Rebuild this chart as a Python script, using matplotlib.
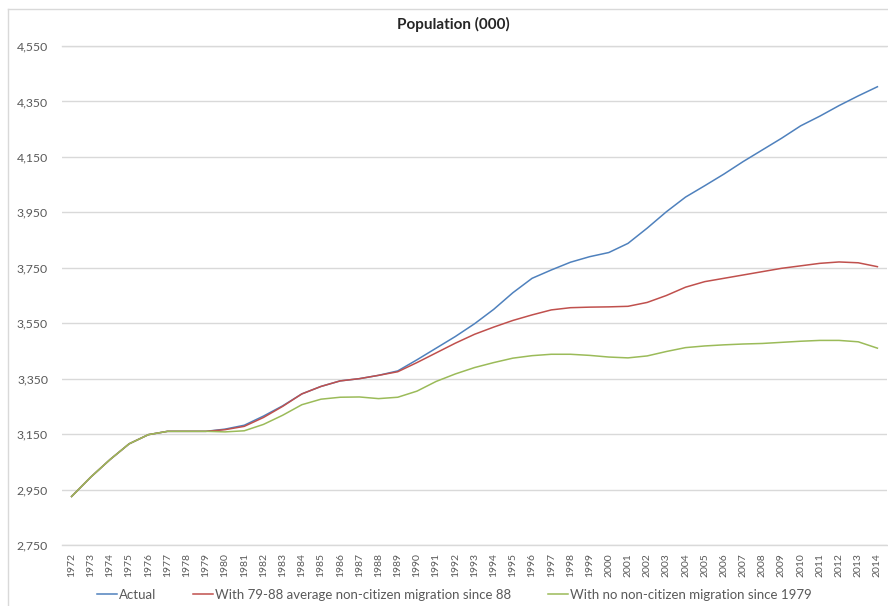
import matplotlib
matplotlib.use("Agg")
import matplotlib.pyplot as plt
from matplotlib.lines import Line2D
import numpy as np

plt.rcParams['font.family'] = ['Lato', 'DejaVu Sans']

years = list(range(1972, 2015))

actual = [2925, 2995, 3058, 3115, 3148, 3160, 3160, 3160, 3168, 3182,
          3215, 3252, 3295, 3322, 3342, 3350, 3362, 3378, 3418, 3460,
          3502, 3548, 3600, 3660, 3712, 3742, 3770, 3790, 3805, 3838,
          3893, 3952, 4005, 4046, 4088, 4133, 4175, 4217, 4262, 4297,
          4335, 4370, 4403]

avg_79_88 = [2925, 2995, 3058, 3115, 3148, 3160, 3160, 3160, 3166, 3178,
             3210, 3250, 3295, 3322, 3342, 3350, 3362, 3375, 3408, 3443,
             3478, 3510, 3536, 3560, 3580, 3598, 3606, 3608, 3609, 3611,
             3625, 3650, 3680, 3700, 3712, 3724, 3736, 3748, 3757, 3766,
             3771, 3768, 3754]

no_migration = [2925, 2995, 3058, 3115, 3148, 3160, 3160, 3160, 3158, 3162,
                3185, 3218, 3256, 3276, 3283, 3284, 3278, 3283, 3305, 3340,
                3367, 3390, 3408, 3424, 3433, 3438, 3438, 3434, 3428, 3425,
                3432, 3448, 3462, 3468, 3472, 3475, 3477, 3481, 3485, 3488,
                3488, 3483, 3460]

labels = ["Actual",
          "With 79-88 average non-citizen migration since 88",
          "With no non-citizen migration since 1979"]
colors = ["#4F81BD", "#C0504D", "#9BBB59"]
yticks = list(range(2750, 4551, 200))

W, H = 888, 606
fig = plt.figure(figsize=(W / 100, H / 100), dpi=100)
ax = fig.add_axes([62 / W, 1 - 545 / H, 825 / W, 499 / H])

x = np.arange(len(years))
for series, lab, col in zip([actual, avg_79_88, no_migration], labels, colors):
    ax.plot(x, series, color=col, lw=1.1, label=lab, solid_joinstyle="round")

grid_c = "#d9d9d9"
ax.set_xlim(-0.5, len(years) - 0.5)
ax.set_ylim(yticks[0], yticks[-1])
ax.set_yticks(yticks)
ax.set_yticklabels([f"{v:,}" for v in yticks], fontsize=8.8, color="#595959")
ax.set_xticks(x)
ax.set_xticklabels([str(y) for y in years], rotation=90, fontsize=7.5, color="#595959")
ax.tick_params(axis="y", length=0, pad=10)
ax.tick_params(axis="x", length=0, pad=6)
ax.grid(axis="y", color=grid_c, lw=1)
ax.set_axisbelow(True)
for s in ["left", "right"]:
    ax.spines[s].set_visible(False)
for s in ["top", "bottom"]:
    ax.spines[s].set_color(grid_c)
    ax.spines[s].set_linewidth(1)

fig.text(453.5 / W, 1 - 24 / H, "Population (000)", ha="center", va="center",
         fontsize=11, fontweight="bold", color="#262626")

fig.legend(loc="center", bbox_to_anchor=(454.5 / W, 1 - 595 / H), ncol=3,
           frameon=False, fontsize=9.5, handlelength=1.5, handletextpad=0.15,
           columnspacing=2.8, labelcolor="#595959")

# chart area border
fig.add_artist(Line2D([8 / W, 8 / W], [0, 1 - 9 / H], color=grid_c, lw=1))
fig.add_artist(Line2D([8 / W, 1], [1 - 9 / H, 1 - 9 / H], color=grid_c, lw=1))

fig.savefig("out.png", dpi=100)
